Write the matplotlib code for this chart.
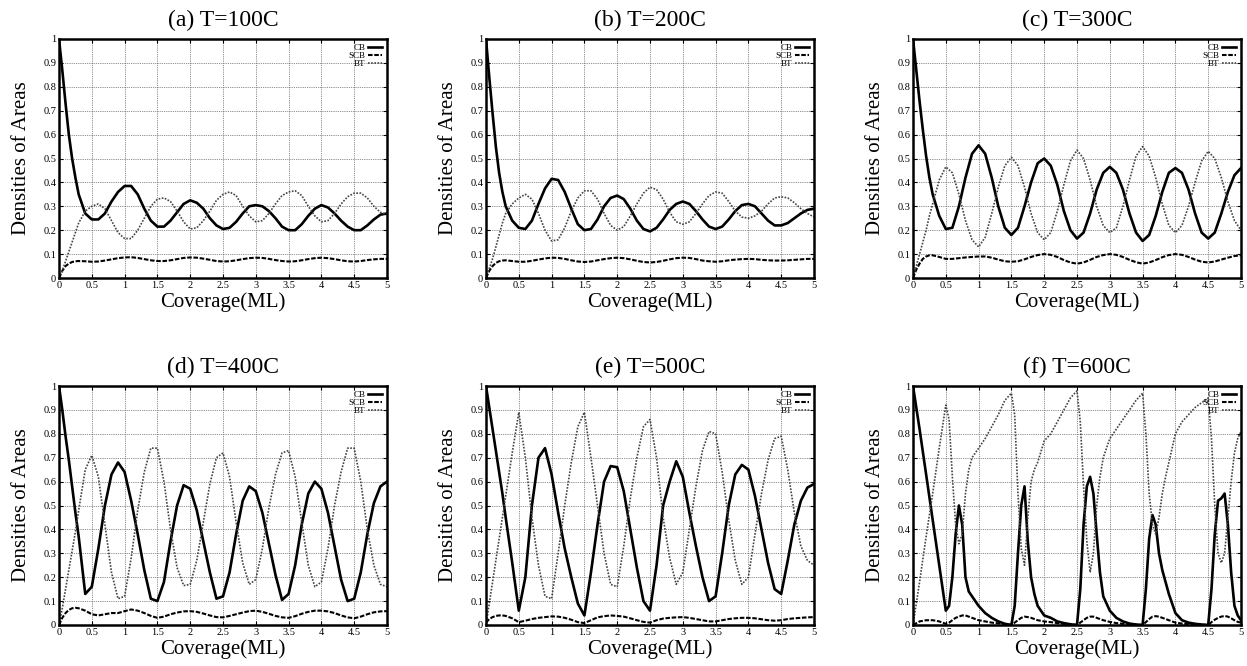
#!/usr/bin/env python3
"""Densities of CB / SCB / BT areas versus coverage for six growth temperatures."""

import matplotlib

matplotlib.use("Agg")
import matplotlib.pyplot as plt

plt.rcParams["font.family"] = ["Liberation Serif", "DejaVu Serif"]

# coverage grid (ML) shared by panels a-e
COVERAGE = [
    0.0, 0.05, 0.1, 0.15, 0.2, 0.25, 0.3,
    0.4, 0.5, 0.6, 0.7, 0.8, 0.9, 1.0, 1.1, 1.2, 1.3,
    1.4, 1.5, 1.6, 1.7, 1.8, 1.9, 2.0, 2.1, 2.2, 2.3,
    2.4, 2.5, 2.6, 2.7, 2.8, 2.9, 3.0, 3.1, 3.2, 3.3,
    3.4, 3.5, 3.6, 3.7, 3.8, 3.9, 4.0, 4.1, 4.2, 4.3,
    4.4, 4.5, 4.6, 4.7, 4.8, 4.9, 5.0,
]

# (a) T=100C
CB_100 = [
    1.0, 0.87, 0.73, 0.6, 0.5, 0.42, 0.35,
    0.27, 0.245, 0.245, 0.27, 0.32, 0.36, 0.385, 0.385, 0.35, 0.29,
    0.24, 0.215, 0.215, 0.24, 0.275, 0.31, 0.325, 0.315, 0.29, 0.25,
    0.22, 0.205, 0.21, 0.235, 0.27, 0.3, 0.305, 0.3, 0.28, 0.25,
    0.215, 0.2, 0.2, 0.225, 0.26, 0.29, 0.305, 0.295, 0.27, 0.24,
    0.215, 0.2, 0.2, 0.22, 0.245, 0.265, 0.27,
]
SCB_100 = [
    0.0, 0.03, 0.05, 0.06, 0.067, 0.07, 0.071,
    0.07, 0.068, 0.069, 0.073, 0.078, 0.083, 0.086, 0.087, 0.084, 0.079,
    0.074, 0.071, 0.071, 0.074, 0.079, 0.084, 0.086, 0.085, 0.081, 0.076,
    0.071, 0.069, 0.07, 0.074, 0.079, 0.083, 0.085, 0.084, 0.08, 0.075,
    0.071, 0.069, 0.07, 0.074, 0.079, 0.083, 0.085, 0.083, 0.079, 0.074,
    0.07, 0.069, 0.071, 0.075, 0.078, 0.08, 0.08,
]
BT_100 = [
    0.0, 0.03, 0.07, 0.11, 0.15, 0.19, 0.23,
    0.28, 0.3, 0.31, 0.29, 0.24, 0.19, 0.165, 0.165, 0.2, 0.25,
    0.3, 0.33, 0.335, 0.32, 0.28, 0.235, 0.205, 0.21, 0.24, 0.28,
    0.325, 0.35, 0.36, 0.345, 0.3, 0.26, 0.235, 0.24, 0.27, 0.31,
    0.345, 0.36, 0.365, 0.345, 0.3, 0.26, 0.235, 0.24, 0.27, 0.31,
    0.34, 0.355, 0.355, 0.335, 0.3, 0.275, 0.265,
]

# (b) T=200C
CB_200 = [
    1.0, 0.84, 0.69, 0.55, 0.44, 0.36, 0.3,
    0.24, 0.21, 0.205, 0.24, 0.31, 0.375, 0.415, 0.41, 0.36, 0.29,
    0.225, 0.2, 0.205, 0.245, 0.3, 0.335, 0.345, 0.33, 0.29, 0.24,
    0.205, 0.195, 0.21, 0.245, 0.285, 0.31, 0.32, 0.31, 0.28, 0.245,
    0.215, 0.205, 0.215, 0.245, 0.28, 0.305, 0.31, 0.3, 0.27, 0.24,
    0.22, 0.22, 0.23, 0.25, 0.27, 0.285, 0.29,
]
SCB_200 = [
    0.0, 0.03, 0.05, 0.063, 0.07, 0.073, 0.074,
    0.071, 0.068, 0.068, 0.072, 0.077, 0.082, 0.085, 0.084, 0.08, 0.074,
    0.069, 0.067, 0.069, 0.074, 0.079, 0.083, 0.085, 0.083, 0.078, 0.072,
    0.067, 0.065, 0.067, 0.072, 0.078, 0.083, 0.085, 0.084, 0.079, 0.073,
    0.07, 0.068, 0.07, 0.074, 0.077, 0.079, 0.08, 0.079, 0.076, 0.074,
    0.073, 0.073, 0.074, 0.076, 0.078, 0.08, 0.08,
]
BT_200 = [
    0.0, 0.04, 0.08, 0.13, 0.18, 0.23, 0.27,
    0.31, 0.335, 0.35, 0.33, 0.27, 0.2, 0.155, 0.16, 0.21, 0.28,
    0.335, 0.365, 0.365, 0.33, 0.27, 0.22, 0.2, 0.215, 0.26, 0.31,
    0.355, 0.38, 0.37, 0.33, 0.275, 0.235, 0.225, 0.235, 0.27, 0.31,
    0.345, 0.36, 0.355, 0.32, 0.28, 0.255, 0.25, 0.26, 0.28, 0.31,
    0.335, 0.34, 0.335, 0.315, 0.29, 0.27, 0.255,
]

# (c) T=300C
CB_300 = [
    1.0, 0.87, 0.74, 0.62, 0.51, 0.42, 0.35,
    0.26, 0.205, 0.21, 0.3, 0.42, 0.52, 0.555, 0.52, 0.42, 0.3,
    0.21, 0.18, 0.21, 0.3, 0.4, 0.48, 0.5, 0.47, 0.39, 0.28,
    0.2, 0.165, 0.19, 0.27, 0.37, 0.44, 0.465, 0.44, 0.37, 0.27,
    0.19, 0.155, 0.18, 0.26, 0.36, 0.44, 0.46, 0.44, 0.37, 0.27,
    0.19, 0.165, 0.19, 0.27, 0.36, 0.43, 0.46,
]
SCB_300 = [
    0.0, 0.035, 0.06, 0.08, 0.09, 0.095, 0.095,
    0.088, 0.08, 0.08, 0.083, 0.086, 0.088, 0.09, 0.09, 0.085, 0.077,
    0.07, 0.068, 0.07, 0.078, 0.088, 0.096, 0.1, 0.097, 0.088, 0.075,
    0.065, 0.06, 0.065, 0.076, 0.088, 0.096, 0.1, 0.097, 0.088, 0.076,
    0.066, 0.06, 0.065, 0.075, 0.087, 0.096, 0.1, 0.097, 0.088, 0.077,
    0.068, 0.065, 0.069, 0.077, 0.085, 0.092, 0.095,
]
BT_300 = [
    0.0, 0.05, 0.1, 0.15, 0.2, 0.26, 0.31,
    0.41, 0.465, 0.44, 0.35, 0.24, 0.16, 0.13, 0.17, 0.27, 0.38,
    0.47, 0.505, 0.47, 0.38, 0.27, 0.19, 0.16, 0.19, 0.28, 0.39,
    0.49, 0.535, 0.5, 0.41, 0.3, 0.22, 0.19, 0.21, 0.3, 0.41,
    0.51, 0.55, 0.51, 0.42, 0.31, 0.22, 0.19, 0.22, 0.3, 0.4,
    0.49, 0.53, 0.5, 0.42, 0.32, 0.24, 0.2,
]

# (d) T=400C
CB_400 = [
    1.0, 0.9, 0.79, 0.69, 0.58, 0.47, 0.37,
    0.13, 0.16, 0.32, 0.5, 0.63, 0.68, 0.64, 0.52, 0.38, 0.23,
    0.11, 0.1, 0.18, 0.35, 0.5, 0.585, 0.57, 0.48, 0.35, 0.22,
    0.11, 0.12, 0.22, 0.38, 0.52, 0.58, 0.56, 0.47, 0.34, 0.21,
    0.105, 0.13, 0.25, 0.42, 0.55, 0.6, 0.57, 0.47, 0.33, 0.19,
    0.1, 0.11, 0.22, 0.38, 0.51, 0.58, 0.6,
]
SCB_400 = [
    0.0, 0.03, 0.05, 0.063, 0.07, 0.072, 0.07,
    0.06, 0.045, 0.04, 0.045, 0.05, 0.05, 0.058, 0.065, 0.06, 0.05,
    0.038, 0.03, 0.035, 0.045, 0.052, 0.057, 0.058, 0.055, 0.048, 0.04,
    0.033, 0.032, 0.038, 0.045, 0.052, 0.058, 0.06, 0.055, 0.047, 0.038,
    0.032, 0.03, 0.037, 0.047, 0.055, 0.06, 0.06, 0.057, 0.05, 0.04,
    0.032, 0.028, 0.035, 0.045, 0.053, 0.057, 0.058,
]
BT_400 = [
    0.0, 0.07, 0.15, 0.23, 0.31, 0.39, 0.48,
    0.65, 0.71, 0.62, 0.42, 0.22, 0.11, 0.12, 0.28, 0.48, 0.64,
    0.74, 0.74, 0.6, 0.4, 0.24, 0.165, 0.17, 0.27, 0.43, 0.59,
    0.7, 0.72, 0.62, 0.43, 0.26, 0.17, 0.19, 0.32, 0.49, 0.63,
    0.72, 0.73, 0.62, 0.43, 0.25, 0.16, 0.18, 0.32, 0.5, 0.64,
    0.74, 0.74, 0.6, 0.4, 0.25, 0.17, 0.16,
]

# (e) T=500C
CB_500 = [
    1.0, 0.91, 0.82, 0.73, 0.64, 0.55, 0.45,
    0.26, 0.06, 0.2, 0.5, 0.7, 0.74, 0.63, 0.47, 0.32, 0.2,
    0.09, 0.04, 0.22, 0.42, 0.6, 0.665, 0.66, 0.56, 0.4, 0.24,
    0.1, 0.06, 0.25, 0.5, 0.6, 0.685, 0.62, 0.47, 0.33, 0.2,
    0.1, 0.12, 0.3, 0.5, 0.63, 0.67, 0.65, 0.54, 0.4, 0.26,
    0.15, 0.13, 0.27, 0.42, 0.52, 0.575, 0.59,
]
SCB_500 = [
    0.01, 0.025, 0.033, 0.038, 0.04, 0.04, 0.038,
    0.028, 0.012, 0.018, 0.025, 0.03, 0.033, 0.036, 0.035, 0.03, 0.022,
    0.012, 0.008, 0.02, 0.032, 0.037, 0.04, 0.038, 0.035, 0.028, 0.02,
    0.013, 0.01, 0.02, 0.027, 0.03, 0.032, 0.033, 0.03, 0.025, 0.02,
    0.015, 0.015, 0.02, 0.025, 0.028, 0.03, 0.03, 0.028, 0.024, 0.02,
    0.018, 0.02, 0.025, 0.028, 0.03, 0.032, 0.033,
]
BT_500 = [
    0.0, 0.09, 0.18, 0.27, 0.36, 0.45, 0.54,
    0.72, 0.89, 0.7, 0.45, 0.25, 0.12, 0.11, 0.3, 0.5, 0.68,
    0.83, 0.89, 0.7, 0.5, 0.3, 0.17, 0.16, 0.33, 0.53, 0.7,
    0.83, 0.86, 0.7, 0.45, 0.28, 0.17, 0.22, 0.4, 0.58, 0.73,
    0.81, 0.8, 0.64, 0.44, 0.27, 0.17, 0.2, 0.38, 0.55, 0.69,
    0.78, 0.79, 0.65, 0.47, 0.33, 0.27, 0.25,
]

# (f) T=600C has sharp features, so it gets its own denser coverage grid
COVERAGE_600 = [
    0.0, 0.1, 0.2, 0.3, 0.4, 0.5, 0.55, 0.6, 0.65, 0.7,
    0.75, 0.8, 0.85, 0.9, 1.0, 1.1, 1.2, 1.3, 1.4, 1.5,
    1.55, 1.6, 1.65, 1.7, 1.75, 1.8, 1.85, 1.9, 2.0, 2.1,
    2.2, 2.3, 2.4, 2.5, 2.55, 2.6, 2.65, 2.7, 2.75, 2.8,
    2.85, 2.9, 3.0, 3.1, 3.2, 3.3, 3.4, 3.5, 3.55, 3.6,
    3.65, 3.7, 3.75, 3.8, 3.85, 3.9, 4.0, 4.1, 4.2, 4.3,
    4.4, 4.5, 4.55, 4.6, 4.65, 4.7, 4.75, 4.8, 4.85, 4.9,
    4.95, 5.0,
]
CB_600 = [
    1.0, 0.82, 0.63, 0.44, 0.25, 0.06, 0.08, 0.2, 0.38, 0.5,
    0.42, 0.2, 0.14, 0.12, 0.08, 0.05, 0.03, 0.015, 0.005, 0.0,
    0.08, 0.3, 0.5, 0.58, 0.35, 0.2, 0.13, 0.08, 0.04, 0.03,
    0.015, 0.008, 0.003, 0.0, 0.15, 0.42, 0.58, 0.62, 0.55, 0.38,
    0.22, 0.12, 0.06, 0.03, 0.015, 0.006, 0.002, 0.0, 0.15, 0.36,
    0.46, 0.42, 0.3, 0.23, 0.18, 0.13, 0.05, 0.02, 0.01, 0.005,
    0.002, 0.0, 0.15, 0.38, 0.52, 0.53, 0.55, 0.42, 0.22, 0.08,
    0.04, 0.02,
]
SCB_600 = [
    0.0, 0.015, 0.02, 0.02, 0.015, 0.005, 0.01, 0.02, 0.03, 0.035,
    0.04, 0.04, 0.035, 0.03, 0.02, 0.015, 0.01, 0.007, 0.004, 0.0,
    0.01, 0.02, 0.03, 0.035, 0.033, 0.03, 0.025, 0.02, 0.015, 0.012,
    0.008, 0.005, 0.003, 0.0, 0.01, 0.02, 0.03, 0.035, 0.035, 0.03,
    0.025, 0.02, 0.013, 0.008, 0.005, 0.003, 0.001, 0.0, 0.012, 0.025,
    0.035, 0.037, 0.035, 0.03, 0.025, 0.02, 0.01, 0.006, 0.004, 0.002,
    0.001, 0.0, 0.012, 0.022, 0.03, 0.035, 0.038, 0.035, 0.028, 0.02,
    0.013, 0.01,
]
BT_600 = [
    0.0, 0.18, 0.37, 0.55, 0.74, 0.92, 0.86, 0.62, 0.42, 0.34,
    0.38, 0.55, 0.65, 0.7, 0.74, 0.78, 0.83, 0.88, 0.94, 0.97,
    0.88, 0.55, 0.32, 0.25, 0.45, 0.6, 0.65, 0.68, 0.77, 0.8,
    0.85, 0.9, 0.95, 0.98, 0.85, 0.58, 0.35, 0.22, 0.3, 0.5,
    0.62, 0.7, 0.78, 0.82, 0.86, 0.9, 0.94, 0.97, 0.8, 0.55,
    0.42, 0.38, 0.45, 0.55, 0.62, 0.68, 0.8, 0.85, 0.88, 0.91,
    0.93, 0.95, 0.78, 0.5, 0.3, 0.26, 0.3, 0.45, 0.6, 0.72,
    0.78, 0.81,
]

TITLES = [
    "(a) T=100C", "(b) T=200C", "(c) T=300C",
    "(d) T=400C", "(e) T=500C", "(f) T=600C",
]
X_TICKS = [0, 0.5, 1, 1.5, 2, 2.5, 3, 3.5, 4, 4.5, 5]
X_TICK_LABELS = ["0", "0.5", "1", "1.5", "2", "2.5", "3", "3.5", "4", "4.5", "5"]
Y_TICKS = [0, 0.1, 0.2, 0.3, 0.4, 0.5, 0.6, 0.7, 0.8, 0.9, 1.0]
Y_TICK_LABELS = ["0", "0.1", "0.2", "0.3", "0.4", "0.5", "0.6", "0.7", "0.8", "0.9", "1"]

PANELS = [
    (COVERAGE, CB_100, SCB_100, BT_100),
    (COVERAGE, CB_200, SCB_200, BT_200),
    (COVERAGE, CB_300, SCB_300, BT_300),
    (COVERAGE, CB_400, SCB_400, BT_400),
    (COVERAGE, CB_500, SCB_500, BT_500),
    (COVERAGE_600, CB_600, SCB_600, BT_600),
]

W, H = 1247, 666
LEFTS = [59, 486, 913]
TOPS = [39, 386]
AX_W, AX_H = 328, 239


def draw_panel(ax, title, x, cb, scb, bt):
    ax.plot(x, cb, color="black", linewidth=1.9, label="CB")
    ax.plot(x, scb, color="black", linewidth=1.5, dashes=(2.2, 0.8), label="SCB")
    ax.plot(x, bt, color="#444444", linewidth=1.2, dashes=(1.0, 0.9), label="BT")

    ax.set_xlim(0, 5)
    ax.set_ylim(0, 1)
    ax.set_xticks(X_TICKS)
    ax.set_xticklabels(X_TICK_LABELS)
    ax.set_yticks(Y_TICKS)
    ax.set_yticklabels(Y_TICK_LABELS)
    ax.tick_params(direction="in", length=3, width=0.8, labelsize=7.5, pad=2,
                   top=True, right=True)
    ax.grid(True, color="#666666", linestyle=(0, (1, 1.2)), linewidth=0.6)
    for spine in ax.spines.values():
        spine.set_linewidth(1.8)

    ax.set_title(title, fontsize=17, pad=9)
    ax.set_xlabel("Coverage(ML)", fontsize=15, labelpad=2)
    ax.set_ylabel("Densities of Areas", fontsize=15, labelpad=9)
    ax.legend(loc="upper right", fontsize=6.5, markerfirst=False, frameon=False,
              handlelength=1.6, handletextpad=0.3, labelspacing=0.0,
              borderaxespad=0.3, borderpad=0.2)


def main():
    fig = plt.figure(figsize=(W / 100, H / 100), dpi=100)
    for i, (title, (x, cb, scb, bt)) in enumerate(zip(TITLES, PANELS)):
        left = LEFTS[i % 3]
        top = TOPS[i // 3]
        ax = fig.add_axes([left / W, 1 - (top + AX_H) / H, AX_W / W, AX_H / H])
        draw_panel(ax, title, x, cb, scb, bt)
    fig.savefig("out.png", dpi=100)
    plt.close(fig)


if __name__ == "__main__":
    main()
